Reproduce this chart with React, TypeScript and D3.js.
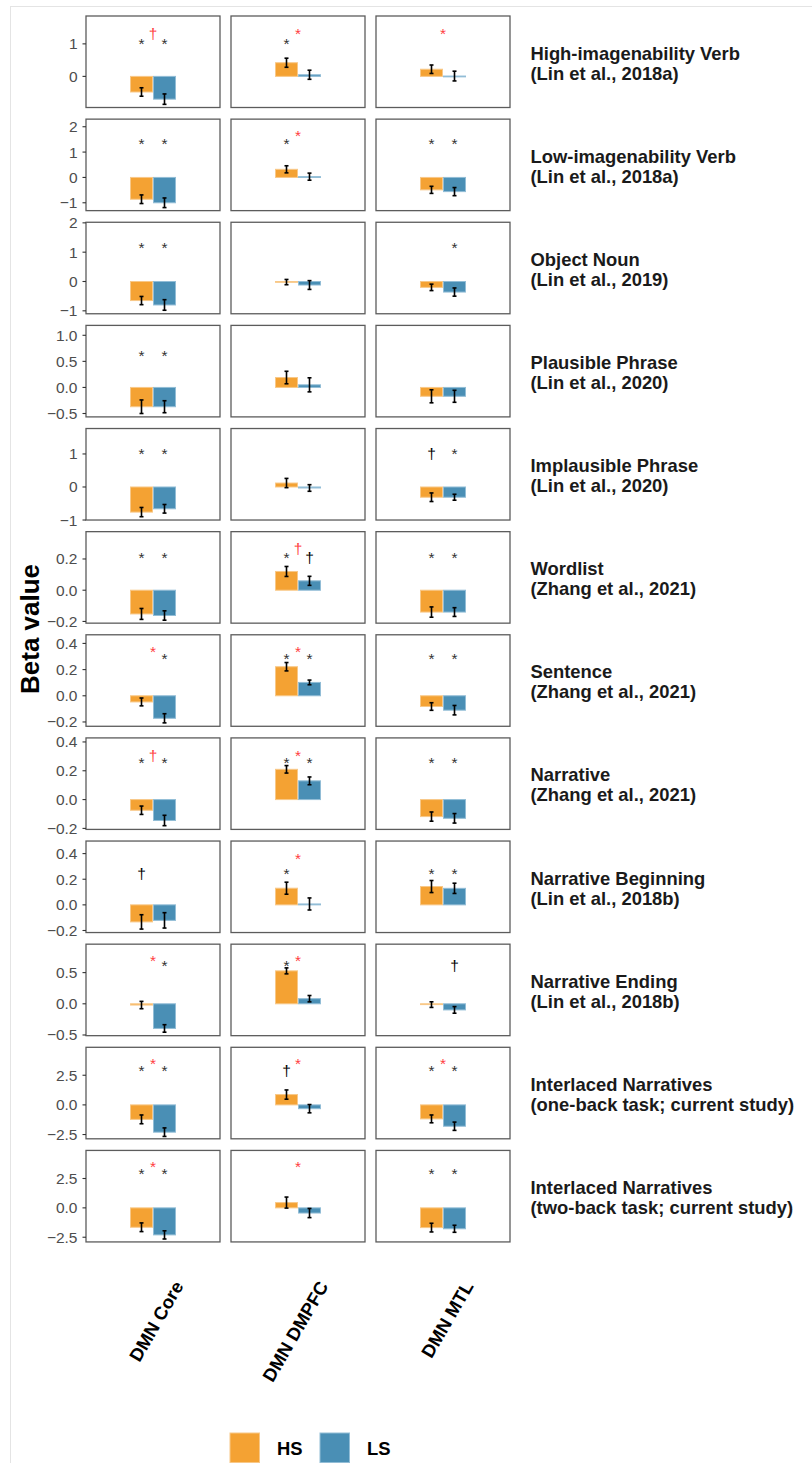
import React from 'react';
import * as d3 from 'd3';

// ---- data ----
const regions = ['DMN Core', 'DMN DMPFC', 'DMN MTL'];
const groups = ['HS', 'LS'];

const taskTitles = [
  'High-imagenability Verb',
  'Low-imagenability Verb',
  'Object Noun',
  'Plausible Phrase',
  'Implausible Phrase',
  'Wordlist',
  'Sentence',
  'Narrative',
  'Narrative Beginning',
  'Narrative Ending',
  'Interlaced Narratives',
  'Interlaced Narratives',
];
const taskSources = [
  '(Lin et al., 2018a)',
  '(Lin et al., 2018a)',
  '(Lin et al., 2019)',
  '(Lin et al., 2020)',
  '(Lin et al., 2020)',
  '(Zhang et al., 2021)',
  '(Zhang et al., 2021)',
  '(Zhang et al., 2021)',
  '(Lin et al., 2018b)',
  '(Lin et al., 2018b)',
  '(one-back task; current study)',
  '(two-back task; current study)',
];

// mean beta per task (row) x region (col)
const hsMean = [
  [-0.48, 0.42, 0.22],
  [-0.86, 0.32, -0.49],
  [-0.65, -0.02, -0.2],
  [-0.37, 0.19, -0.17],
  [-0.76, 0.12, -0.31],
  [-0.152, 0.12, -0.14],
  [-0.047, 0.222, -0.082],
  [-0.074, 0.21, -0.118],
  [-0.133, 0.13, 0.143],
  [-0.02, 0.528, -0.013],
  [-1.22, 0.87, -1.18],
  [-1.65, 0.45, -1.68],
];
const hsErr = [
  [0.13, 0.14, 0.13],
  [0.17, 0.14, 0.14],
  [0.14, 0.09, 0.11],
  [0.13, 0.12, 0.125],
  [0.14, 0.14, 0.13],
  [0.035, 0.032, 0.033],
  [0.03, 0.032, 0.029],
  [0.029, 0.026, 0.032],
  [0.056, 0.047, 0.047],
  [0.059, 0.048, 0.045],
  [0.37, 0.39, 0.33],
  [0.37, 0.47, 0.37],
];
const lsMean = [
  [-0.7, 0.05, 0.01],
  [-1.0, 0.03, -0.56],
  [-0.8, -0.12, -0.36],
  [-0.37, 0.05, -0.17],
  [-0.66, -0.03, -0.31],
  [-0.162, 0.06, -0.14],
  [-0.172, 0.102, -0.11],
  [-0.145, 0.13, -0.13],
  [-0.121, 0.007, 0.129],
  [-0.395, 0.082, -0.098],
  [-2.3, -0.32, -1.8],
  [-2.3, -0.44, -1.78],
];
const lsErr = [
  [0.16, 0.14, 0.15],
  [0.19, 0.14, 0.16],
  [0.18, 0.15, 0.14],
  [0.115, 0.135, 0.115],
  [0.13, 0.1, 0.09],
  [0.03, 0.029, 0.028],
  [0.035, 0.018, 0.036],
  [0.036, 0.027, 0.033],
  [0.06, 0.047, 0.04],
  [0.06, 0.051, 0.053],
  [0.36, 0.35, 0.35],
  [0.35, 0.39, 0.3],
];

// significance marks: [HS (black), HS vs LS (red), LS (black)], '-' = none
const sigMarks = [
  ['*†*', '**-', '-*-'],
  ['*-*', '**-', '*-*'],
  ['*-*', '---', '--*'],
  ['*-*', '---', '---'],
  ['*-*', '---', '†-*'],
  ['*-*', '*††', '*-*'],
  ['-**', '***', '*-*'],
  ['*†*', '***', '*-*'],
  ['†--', '**-', '*-*'],
  ['-**', '**-', '--†'],
  ['***', '†*-', '***'],
  ['***', '-*-', '*-*'],
];
const blackLevel = [0.98, 1.28, 1.11, 0.59, 0.98, 0.2, 0.275, 0.253, 0.233, 0.59, 2.78, 2.8];
const redLevel = [1.28, 1.6, 1.4, 0.75, 1.2, 0.258, 0.33, 0.3, 0.352, 0.678, 3.38, 3.43];

const yLimits: [number, number][] = [
  [-0.957, 1.857],
  [-1.31, 2.3],
  [-1.1, 2.02],
  [-0.565, 1.19],
  [-1.0, 1.77],
  [-0.211, 0.375],
  [-0.233, 0.466],
  [-0.207, 0.428],
  [-0.216, 0.498],
  [-0.511, 0.956],
  [-2.86, 4.857],
  [-2.9, 4.89],
];
const yTicks = [
  [0, 1],
  [-1, 0, 1, 2],
  [-1, 0, 1, 2],
  [-0.5, 0, 0.5, 1],
  [-1, 0, 1],
  [-0.2, 0, 0.2],
  [-0.2, 0, 0.2, 0.4],
  [-0.2, 0, 0.2, 0.4],
  [-0.2, 0, 0.2, 0.4],
  [-0.5, 0, 0.5],
  [-2.5, 0, 2.5],
  [-2.5, 0, 2.5],
];
const tickDecimals = [0, 0, 0, 1, 0, 1, 1, 1, 1, 1, 1, 1];

// ---- layout ----
const W = 812;
const H = 1463;
const panelLeft = 86;
const panelW = 134;
const panelGap = 11;
const panelTop = 16;
const panelH = 91.5;
const rowPitch = 103.13;
const barHalf = 23;
const font = 'Liberation Sans, Arial, Helvetica, sans-serif';

const colors: Record<string, { fill: string; edge: string }> = {
  HS: { fill: '#f4a233', edge: '#f8c888' },
  LS: { fill: '#4a8fb5', edge: '#92bdd6' },
};

const Panel: React.FC<{ row: number; col: number }> = ({ row, col }) => {
  const x0 = panelLeft + col * (panelW + panelGap);
  const y0 = panelTop + row * rowPitch;
  const cx = x0 + panelW / 2;
  const y = d3.scaleLinear().domain(yLimits[row]).range([y0 + panelH, y0]);
  const xb = d3.scaleBand<string>().domain(groups).range([cx - barHalf, cx + barHalf]).padding(0);
  const vals = [
    { g: 'HS', m: hsMean[row][col], e: hsErr[row][col] },
    { g: 'LS', m: lsMean[row][col], e: lsErr[row][col] },
  ];
  const marks = sigMarks[row][col];
  const markX = [xb('HS')! + xb.bandwidth() / 2, cx, xb('LS')! + xb.bandwidth() / 2];

  return (
    <g>
      <rect x={x0} y={y0} width={panelW} height={panelH} fill="#fff" />
      {vals.map((v) => {
        const top = Math.min(y(v.m), y(0));
        const h = Math.max(Math.abs(y(v.m) - y(0)), 0.8);
        return (
          <rect
            key={v.g}
            x={xb(v.g)! + 0.5}
            y={top}
            width={xb.bandwidth() - 1}
            height={h}
            fill={colors[v.g].fill}
            stroke={colors[v.g].edge}
            strokeWidth={1}
          />
        );
      })}
      {vals.map((v) => {
        const ex = xb(v.g)! + xb.bandwidth() / 2;
        return (
          <g key={'e' + v.g} stroke="#000" strokeWidth={1.6}>
            <line x1={ex} x2={ex} y1={y(v.m + v.e)} y2={y(v.m - v.e)} />
            <line x1={ex - 2} x2={ex + 2} y1={y(v.m + v.e)} y2={y(v.m + v.e)} />
            <line x1={ex - 2} x2={ex + 2} y1={y(v.m - v.e)} y2={y(v.m - v.e)} />
          </g>
        );
      })}
      {marks.split('').map((m, i) => {
        if (m === '-') return null;
        const red = i === 1;
        const lvl = red ? redLevel[row] : blackLevel[row];
        return (
          <text
            key={'m' + i}
            x={markX[i]}
            y={y(lvl) + 4.4}
            textAnchor="middle"
            fontFamily={font}
            fontSize={15.5}
            fill={red ? '#ff3f3f' : m === '*' ? '#333' : '#000'}
          >
            {m}
          </text>
        );
      })}
      <rect x={x0} y={y0} width={panelW} height={panelH} fill="none" stroke="#5c5c5c" strokeWidth={1.3} />
      {col === 0 &&
        yTicks[row].map((t) => (
          <g key={'t' + t}>
            <line x1={x0 - 3.5} x2={x0} y1={y(t)} y2={y(t)} stroke="#333" strokeWidth={1.1} />
            <text
              x={x0 - 8.5}
              y={y(t) + 5.5}
              textAnchor="end"
              fontFamily={font}
              fontSize={15.5}
              fill="#4d4d4d"
            >
              {d3.format(`.${tickDecimals[row]}f`)(t)}
            </text>
          </g>
        ))}
      {col === 2 && (
        <text fontFamily={font} fontWeight="bold" fontSize={18.4} fill="#1a1a1a">
          <tspan x={530.5} y={y0 + panelH / 2 - 2.2}>
            {taskTitles[row]}
          </tspan>
          <tspan x={530.5} y={y0 + panelH / 2 + 17.8}>
            {taskSources[row]}
          </tspan>
        </text>
      )}
    </g>
  );
};

export default function App() {
  const lastBottom = panelTop + 11 * rowPitch + panelH;
  const stackMid = (panelTop + lastBottom) / 2;
  return (
    <svg
      width={W}
      height={H}
      viewBox={`0 0 ${W} ${H}`}
      style={{ position: 'absolute', left: 0, top: 0, display: 'block', background: '#fff' }}
    >
      <line x1={10.5} x2={10.5} y1={6} y2={H} stroke="#e4e4e4" strokeWidth={1} />
      <line x1={10} x2={W} y1={6.5} y2={6.5} stroke="#e4e4e4" strokeWidth={1} />
      {taskTitles.map((_, r) =>
        regions.map((_, c) => <Panel key={`${r}-${c}`} row={r} col={c} />)
      )}
      <text
        transform={`translate(39,${stackMid}) rotate(-90)`}
        textAnchor="middle"
        fontFamily={font}
        fontWeight="bold"
        fontSize={26}
        fill="#000"
      >
        Beta value
      </text>
      {regions.map((name, c) => {
        const cx = panelLeft + c * (panelW + panelGap) + panelW / 2;
        return (
          <text
            key={name}
            transform={`translate(${cx + 31},${lastBottom + 44}) rotate(-60)`}
            textAnchor="end"
            fontFamily={font}
            fontWeight="bold"
            fontSize={18.4}
            fill="#000"
          >
            {name}
          </text>
        );
      })}
      {groups.map((g, i) => (
        <g key={g}>
          <rect x={230 + i * 90} y={1433} width={29.5} height={29.5} fill={colors[g].fill} stroke={colors[g].edge} strokeWidth={1} />
          <text x={277 + i * 90} y={1455} fontFamily={font} fontWeight="bold" fontSize={18.4} fill="#000">
            {g}
          </text>
        </g>
      ))}
    </svg>
  );
}
